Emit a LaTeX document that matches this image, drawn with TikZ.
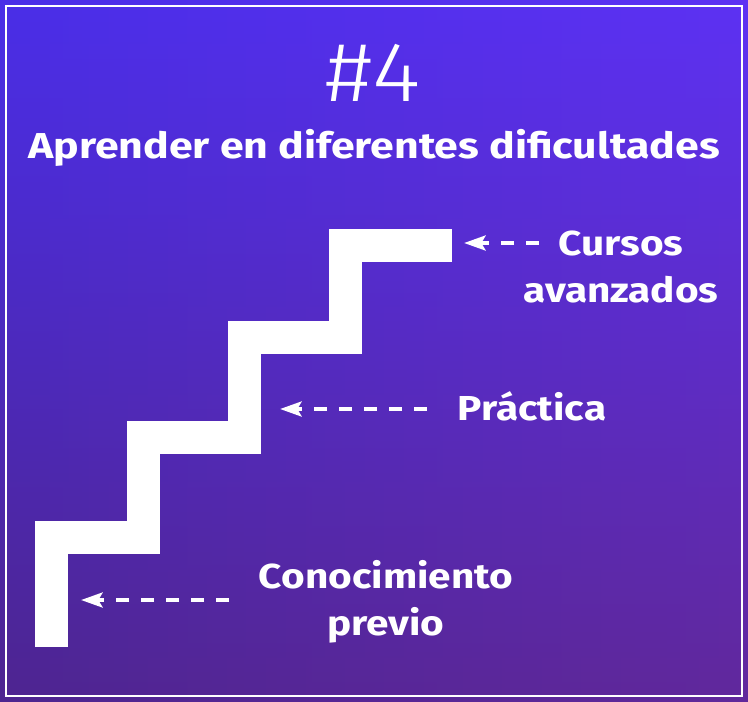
\documentclass[tikz,border=0pt]{standalone}
\usepackage{fontspec}
\setmainfont{Fira Sans}
\newfontfamily\hashfont{Fira Sans Light}[FakeStretch=1.1]
\newfontfamily\labelfont{Fira Sans}[FakeStretch=1.17]
\newfontfamily\titlefont{Fira Sans}[FakeStretch=1.19]
\usetikzlibrary{arrows.meta}
\definecolor{bgtop}{RGB}{74,46,232}
\definecolor{bgbottom}{RGB}{82,28,56}
\definecolor{bgleft}{RGB}{74,46,232}
\definecolor{bgright}{RGB}{112,52,255}
\begin{document}
\begin{tikzpicture}[x=0.75pt, y=-0.75pt]
\tikzstyle{label} = [text=white, font=\labelfont\bfseries\fontsize{26}{35}\selectfont, align=center, anchor=base, inner sep=0pt]
\tikzstyle{pointer} = [draw=white, line width=3.4pt, dash pattern=on 9.75pt off 9pt, -{Stealth[length=16pt, width=11pt, inset=3pt]}]
\tikzstyle{stair} = [draw=white, line width=24.75pt, line join=miter]

\useasboundingbox (0,0) rectangle (748,701);
\shade[top color=bgtop, bottom color=bgbottom] (0,0) rectangle (748,701);
\shade[left color=bgleft, right color=bgright, opacity=0.5] (0,0) rectangle (748,701);
\draw[white, line width=1.5pt] (5.5,6) rectangle (741.5,695.5);

\node[text=white, font=\hashfont\fontsize{63.5}{64}\selectfont, anchor=base, inner sep=0pt] (num) at (373,101) {\#4};
\node[label, font=\titlefont\bfseries\fontsize{27}{35}\selectfont] (title) at (374,158) {Aprender en diferentes dificultades};
\node[label] (cursos) at (621,302) {Cursos\\avanzados};
\node[label] (practica) at (532,420) {Práctica};
\node[label] (previo) at (386,635) {Conocimiento\\previo};

\draw[stair] (51,647) |- (143,537) |- (244,437) |- (345,337) |- (452,245);

\coordinate (cursos tail) at (539,243);
\coordinate (cursos tip) at (464,243);
\coordinate (practica tail) at (427,409);
\coordinate (practica tip) at (280,409);
\coordinate (previo tail) at (229,600);
\coordinate (previo tip) at (81,600);

\draw[pointer] (cursos tail) -- (cursos tip);
\draw[pointer] (practica tail) -- (practica tip);
\draw[pointer] (previo tail) -- (previo tip);
\end{tikzpicture}
\end{document}
